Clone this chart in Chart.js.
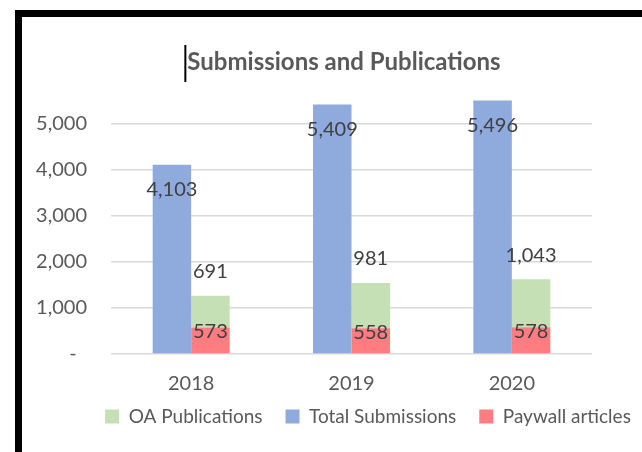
<!DOCTYPE html>
<html>
<head>
<meta charset="utf-8">
<script src="https://cdn.jsdelivr.net/npm/chart.js@4"></script>
<style>
  html, body { margin: 0; background: #fff; overflow: hidden; }
  .frame { position: absolute; left: 15px; top: 10px; width: 640px; height: 450px;
           border-top: 7px solid #000; border-left: 7px solid #000; }
  .wrap { position: absolute; left: 22px; top: 17px; width: 620px; height: 435px; }
</style>
</head>
<body>
<div class="frame"></div>
<div class="wrap"><canvas id="chart"></canvas></div>
<script>
const years = ['2018', '2019', '2020'];
const totalSubmissions = [4103, 5409, 5496];
const paywallArticles = [573, 558, 578];
const oaPublications = [691, 981, 1043];
const yTicks = [0, 1000, 2000, 3000, 4000, 5000];
const legendOrder = ['OA Publications', 'Total Submissions', 'Paywall articles'];
const titleText = 'Submissions and Publications';

Chart.defaults.font.family = 'Lato';
Chart.defaults.color = '#595959';

// where each series puts its value label, relative to the bar top
const labelOffset = { 'Total Submissions': 25, 'Paywall articles': 4, 'OA Publications': -24 };

const barLabels = {
    id: 'barLabels',
    afterDatasetsDraw(chart) {
        const ctx = chart.ctx;
        ctx.save();
        ctx.font = '20px Lato';
        ctx.fillStyle = '#404040';
        ctx.textAlign = 'center';
        ctx.textBaseline = 'middle';
        chart.data.datasets.forEach((ds, i) => {
            chart.getDatasetMeta(i).data.forEach((bar, j) => {
                ctx.fillText(ds.data[j].toLocaleString('en-US'), bar.x, bar.y + labelOffset[ds.label]);
            });
        });
        ctx.restore();
    }
};

// excel centres title and legend on the whole (cropped) chart, not the canvas
const centre = (box, x, dy) => {
    const w = box.right - box.left;
    box.left = x - w / 2;
    box.right = x + w / 2;
    box.top += dy;
    box.bottom += dy;
};
const placeBlocks = {
    id: 'placeBlocks',
    afterLayout(chart) {
        centre(chart.titleBlock, 322, 0);
        centre(chart.legend, 346, -16);
    },
    afterDraw(chart) {
        // text cursor left in front of the title
        const ctx = chart.ctx, t = chart.titleBlock;
        ctx.save();
        ctx.font = t.options.font.weight + ' ' + t.options.font.size + 'px Lato';
        const w = ctx.measureText(titleText).width;
        ctx.fillStyle = '#000';
        ctx.fillRect((t.left + t.right) / 2 - w / 2 - 3, 28, 2, 37);
        ctx.restore();
    }
};

new Chart(document.getElementById('chart'), {
    type: 'bar',
    data: {
        labels: years,
        datasets: [
            { label: 'Total Submissions', data: totalSubmissions, backgroundColor: '#8faadc', stack: 'sub' },
            { label: 'Paywall articles', data: paywallArticles, backgroundColor: '#ff7c80', stack: 'pub' },
            { label: 'OA Publications', data: oaPublications, backgroundColor: '#c5e0b4', stack: 'pub' }
        ]
    },
    options: {
        responsive: true,
        maintainAspectRatio: false,
        animation: false,
        categoryPercentage: 0.48,
        barPercentage: 1,
        layout: { padding: { left: 0, right: 0, top: 0, bottom: 0 } },
        plugins: {
            tooltip: { enabled: false },
            title: {
                display: true,
                text: titleText,
                color: '#595959',
                font: { size: 24, weight: 'bold' },
                padding: { top: 31, bottom: 19 }
            },
            legend: {
                position: 'bottom',
                labels: {
                    boxWidth: 14,
                    boxHeight: 14,
                    padding: 23,
                    color: '#595959',
                    font: { size: 19 },
                    sort: (a, b) => legendOrder.indexOf(a.text) - legendOrder.indexOf(b.text)
                }
            }
        },
        scales: {
            x: {
                stacked: true,
                afterFit: (s) => { s.height = 46; },
                grid: { display: false },
                border: { display: false },
                ticks: { padding: 10, font: { size: 20 }, color: '#595959' }
            },
            y: {
                stacked: true,
                min: 0,
                max: 5600,
                afterFit: (s) => { s.width = 89; },
                afterBuildTicks: (s) => { s.ticks = yTicks.map(v => ({ value: v })); },
                grid: { color: '#d9d9d9', lineWidth: 1.5, drawTicks: false },
                border: { display: false },
                ticks: {
                    autoSkip: false,
                    padding: 24,
                    font: { size: 20 },
                    color: '#595959',
                    callback: (v) => v === 0 ? '-  ' : v.toLocaleString('en-US')
                }
            },
            // empty strip on the right, keeps the plot narrower than the legend row
            gap: {
                position: 'right',
                grid: { display: false },
                border: { display: false },
                ticks: { display: false },
                afterFit: (s) => { s.width = 50; }
            }
        }
    },
    plugins: [barLabels, placeBlocks]
});
</script>
</body>
</html>
